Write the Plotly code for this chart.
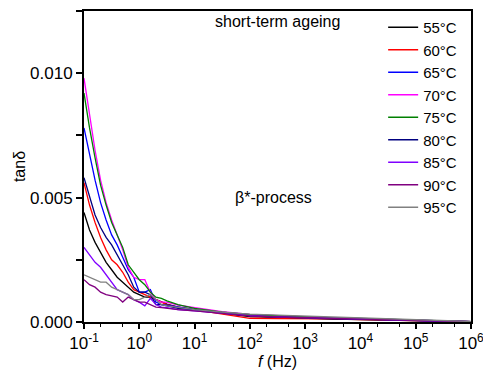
import plotly.graph_objects as go

log_f = [-1, -0.9, -0.8, -0.7, -0.6, -0.5, -0.4, -0.3, -0.2, -0.1, 0, 0.1, 0.2, 0.3, 0.4, 0.5,
         0.7, 1.0, 1.5, 2.0, 2.5, 3.0, 3.5, 4.0, 4.5, 5.0, 5.5, 6.0]
freq = [10 ** v for v in log_f]

labels = ["55°C", "60°C", "65°C", "70°C", "75°C", "80°C", "85°C", "90°C", "95°C"]
colors = ["#000000", "#ff0000", "#0000ff", "#ff00ff", "#008000", "#000080", "#8000ff", "#800080", "#808080"]

x_tick_vals = [0.1, 1, 10, 100, 1000, 10000, 100000, 1000000]
x_tick_text = ["10<sup>-1</sup>", "10<sup>0</sup>", "10<sup>1</sup>", "10<sup>2</sup>",
               "10<sup>3</sup>", "10<sup>4</sup>", "10<sup>5</sup>", "10<sup>6</sup>"]

t55 = [0.0044, 0.0037, 0.0032, 0.0028, 0.0024, 0.0021, 0.0018, 0.0016, 0.0014, 0.0012, 0.0011, 0.0010, 0.0010, 0.0009, 0.0008, 0.00072,
       0.0006, 0.0005, 0.00035, 0.00022, 0.00018, 0.00015, 0.00012, 0.0001, 0.00008, 0.00006, 0.00004, 0.00001]
t60 = [0.0056, 0.0047, 0.0040, 0.0034, 0.0029, 0.0025, 0.0023, 0.0020, 0.0016, 0.0013, 0.0012, 0.0011, 0.0010, 0.0009, 0.0008, 0.0007,
       0.0006, 0.0005, 0.00033, 0.00015, 0.00014, 0.00015, 0.00013, 0.0001, 0.00008, 0.00006, 0.00004, 0.00001]
t65 = [0.0078, 0.0067, 0.0057, 0.0048, 0.0041, 0.0035, 0.0031, 0.0026, 0.0021, 0.0018, 0.0012, 0.0012, 0.0013, 0.0008, 0.0007, 0.00068,
       0.0006, 0.0005, 0.0004, 0.0003, 0.00024, 0.0002, 0.00016, 0.00013, 0.0001, 0.00007, 0.00004, 0.00001]
t70 = [0.0098, 0.0083, 0.0069, 0.0057, 0.0048, 0.0041, 0.0035, 0.0029, 0.0022, 0.0018, 0.0017, 0.0017, 0.0012, 0.0009, 0.0008, 0.0008,
       0.00068, 0.00058, 0.00042, 0.00031, 0.00025, 0.0002, 0.00016, 0.00013, 0.0001, 0.00007, 0.00004, 0.00001]
t75 = [0.0092, 0.0078, 0.0066, 0.0055, 0.0047, 0.0040, 0.0035, 0.0030, 0.0023, 0.0020, 0.0017, 0.0015, 0.0012, 0.0010, 0.00095, 0.00085,
       0.0007, 0.00055, 0.0004, 0.0003, 0.00025, 0.0002, 0.00016, 0.00014, 0.0001, 0.00007, 0.00004, 0.00001]
t80 = [0.0058, 0.0050, 0.0043, 0.0038, 0.0034, 0.0031, 0.0027, 0.0023, 0.0019, 0.0014, 0.0012, 0.0012, 0.0011, 0.0007, 0.0007, 0.00065,
       0.00055, 0.00048, 0.00035, 0.00025, 0.0002, 0.00016, 0.00013, 0.00011, 0.00009, 0.00006, 0.00004, 0.00001]
t85 = [0.0030, 0.0027, 0.0024, 0.0022, 0.0019, 0.0016, 0.0013, 0.0012, 0.0011, 0.0009, 0.0008, 0.00065, 0.00095, 0.0007, 0.0006, 0.00058,
       0.0005, 0.00045, 0.00035, 0.00026, 0.00021, 0.00018, 0.00015, 0.00012, 0.0001, 0.00007, 0.00004, 0.00001]
t90 = [0.0017, 0.0015, 0.0014, 0.0012, 0.0011, 0.00105, 0.0010, 0.0008, 0.0010, 0.0009, 0.0008, 0.0008, 0.0007, 0.0006, 0.00058, 0.00055,
       0.0005, 0.00045, 0.00035, 0.00025, 0.0002, 0.00017, 0.00014, 0.00012, 0.0001, 0.00007, 0.00004, 0.00001]
t95 = [0.0019, 0.0018, 0.0017, 0.0016, 0.0016, 0.0014, 0.0013, 0.0012, 0.0011, 0.0009, 0.0009, 0.0010, 0.0011, 0.0009, 0.0007, 0.00065,
       0.00058, 0.0005, 0.0004, 0.00032, 0.00028, 0.00024, 0.0002, 0.00016, 0.00012, 0.00009, 0.00005, 0.00002]

series = [t55, t60, t65, t70, t75, t80, t85, t90, t95]

FONT = "Arial"

fig = go.Figure()
for name, col, vals in zip(labels, colors, series):
    fig.add_trace(go.Scatter(x=freq, y=vals, mode="lines", name=name,
                             line=dict(color=col, width=1.3)))

fig.update_layout(
    width=483, height=376,
    margin=dict(l=84, r=12, t=11, b=54),
    paper_bgcolor="white", plot_bgcolor="white",
    font=dict(family=FONT, size=16, color="black"),
    showlegend=True,
    legend=dict(x=0.773, y=1.0, xanchor="left", yanchor="top",
                bgcolor="rgba(0,0,0,0)", font=dict(size=15, family=FONT),
                tracegroupgap=0),
    annotations=[
        dict(text="short-term ageing", x=0.5, y=0.965, xref="paper", yref="paper",
             xanchor="center", yanchor="middle", showarrow=False, font=dict(size=16, family=FONT)),
        dict(text="β*-process", x=0.49, y=0.40, xref="paper", yref="paper",
             xanchor="center", yanchor="middle", showarrow=False, font=dict(size=16, family=FONT)),
    ],
)

fig.update_xaxes(
    type="log", range=[-1, 6.0005], tickmode="array", tickvals=x_tick_vals, ticktext=x_tick_text,
    ticklabeloverflow="allow", automargin=False,
    showgrid=False, zeroline=False,
    showline=True, linecolor="black", linewidth=2, mirror=True,
    ticks="outside", ticklen=5, tickwidth=1.5, tickcolor="black",
    minor=dict(ticks="outside", ticklen=3, tickwidth=1, tickcolor="black", showgrid=False),
    tickfont=dict(size=17, family=FONT),
    title=dict(text="<i>f</i> (Hz)", font=dict(size=16, family=FONT), standoff=2),
)
fig.update_yaxes(
    range=[0, 0.0125], dtick=0.005, tickformat=".3f", automargin=False,
    showgrid=False, zeroline=False,
    showline=True, linecolor="black", linewidth=2, mirror=True,
    ticks="outside", ticklen=6, tickwidth=1.5, tickcolor="black",
    minor=dict(dtick=0.0025, ticks="outside", ticklen=6, tickwidth=1.5, tickcolor="black", showgrid=False),
    tickfont=dict(size=17, family=FONT),
    title=dict(text="tanδ", font=dict(size=16, family=FONT), standoff=0),
)

fig.write_html("out.html")
